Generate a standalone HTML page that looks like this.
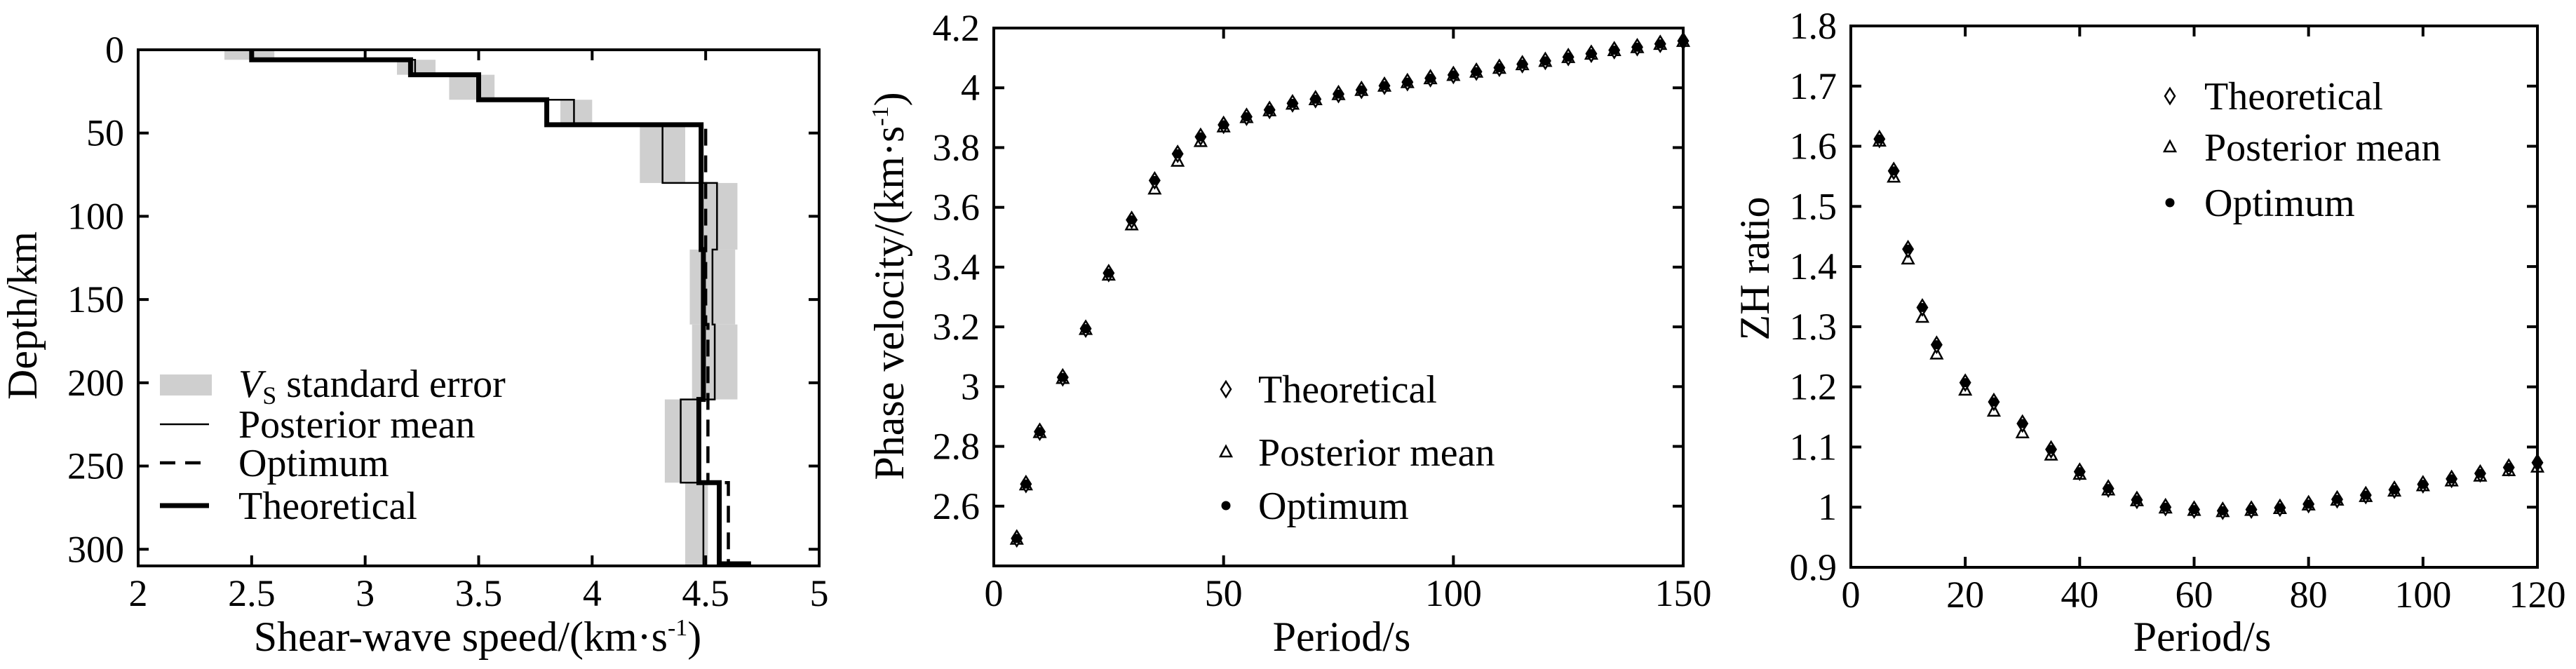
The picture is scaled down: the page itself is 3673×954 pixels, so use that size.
<!DOCTYPE html>
<html><head><meta charset="utf-8"><style>
html,body{margin:0;padding:0;background:#fff;}
svg{display:block;font-family:"Liberation Serif",serif;}
</style></head><body>
<svg id="fig" width="3673" height="954" viewBox="0 0 3673 954" xmlns="http://www.w3.org/2000/svg">
<g id="p1"></g>
<g id="p2"></g>
<g id="p3"></g>
</svg>
<script>
// ---- Panel 1 data: layers [top depth, bottom depth]
const layerTop = [0, 6, 15, 30, 45, 80, 120, 165, 210, 260];
const layerBot = [6, 15, 30, 45, 80, 120, 165, 210, 260, 310];
const theoVs = [2.5, 3.2, 3.5, 3.8, 4.48, 4.48, 4.49, 4.49, 4.47, 4.56];
const postVs = [2.5, 3.22, 3.5, 3.92, 4.31, 4.55, 4.53, 4.54, 4.39, 4.49];
const optVs = [2.5, 3.2, 3.5, 3.8, 4.5, 4.5, 4.5, 4.51, 4.51, 4.6];
const errLo = [2.38, 3.14, 3.37, 3.86, 4.21, 4.49, 4.43, 4.44, 4.32, 4.41];
const errHi = [2.6, 3.31, 3.57, 4.0, 4.41, 4.64, 4.63, 4.64, 4.46, 4.51];
const p1XTicks = [2, 2.5, 3, 3.5, 4, 4.5, 5];
const p1XLabels = ["2", "2.5", "3", "3.5", "4", "4.5", "5"];
const p1YTicks = [0, 50, 100, 150, 200, 250, 300];
const p1YLabels = ["0", "50", "100", "150", "200", "250", "300"];

// ---- Panel 2 data
const pvPeriods = [5,7,10,15,20,25,30,35,40,45,50,55,60,65,70,75,80,85,90,95,100,105,110,115,120,125,130,135,140,145,150];
const pvTheo = [2.492,2.674,2.849,3.031,3.194,3.38,3.558,3.69,3.779,3.836,3.876,3.903,3.926,3.948,3.962,3.979,3.993,4.007,4.019,4.032,4.043,4.054,4.067,4.079,4.09,4.103,4.114,4.126,4.136,4.147,4.157];
const pvPost = [2.488,2.67,2.845,3.026,3.19,3.372,3.54,3.66,3.753,3.819,3.868,3.899,3.922,3.944,3.959,3.976,3.99,4.004,4.016,4.029,4.04,4.051,4.064,4.076,4.087,4.1,4.111,4.123,4.133,4.144,4.154];
const pvOpt = [2.492,2.674,2.849,3.031,3.194,3.38,3.558,3.69,3.779,3.836,3.876,3.903,3.926,3.948,3.962,3.979,3.993,4.007,4.019,4.032,4.043,4.054,4.067,4.079,4.09,4.103,4.114,4.126,4.136,4.147,4.157];
const p2XTicks = [0, 50, 100, 150];
const p2YTicks = [2.6, 2.8, 3.0, 3.2, 3.4, 3.6, 3.8, 4.0, 4.2];
const p2YLabels = ["2.6","2.8","3","3.2","3.4","3.6","3.8","4","4.2"];

// ---- Panel 3 data
const zhPeriods = [5,7.5,10,12.5,15,20,25,30,35,40,45,50,55,60,65,70,75,80,85,90,95,100,105,110,115,120];
const zhTheo = [1.612,1.559,1.429,1.332,1.27,1.207,1.175,1.139,1.096,1.059,1.031,1.012,1.0,0.996,0.994,0.996,0.999,1.005,1.013,1.02,1.029,1.038,1.047,1.056,1.066,1.074];
const zhPost = [1.608,1.548,1.412,1.315,1.254,1.194,1.159,1.123,1.086,1.054,1.028,1.01,0.998,0.994,0.992,0.994,0.997,1.003,1.011,1.017,1.026,1.035,1.043,1.051,1.06,1.066];
const zhOpt = [1.612,1.559,1.429,1.332,1.27,1.207,1.175,1.139,1.096,1.059,1.031,1.012,1.0,0.996,0.994,0.996,0.999,1.005,1.013,1.02,1.029,1.038,1.047,1.056,1.066,1.074];
const p3XTicks = [0,20,40,60,80,100,120];
const p3YTicks = [0.9,1.0,1.1,1.2,1.3,1.4,1.5,1.6,1.7,1.8];
const p3YLabels = ["0.9","1","1.1","1.2","1.3","1.4","1.5","1.6","1.7","1.8"];

const NS = "http://www.w3.org/2000/svg";
function mk(parent, tag, attrs, text) {
  const e = document.createElementNS(NS, tag);
  for (const k in attrs) e.setAttribute(k, attrs[k]);
  if (text !== undefined) e.textContent = text;
  parent.appendChild(e);
  return e;
}
function lin(d0, d1, r0, r1) { return v => r0 + (v - d0) / (d1 - d0) * (r1 - r0); }

function frame(g, L, T, R, B, xs, xT, xL, ys, yT, yL, tickFs) {
  const axes = mk(g, "rect", {x:L, y:T, width:R-L, height:B-T, fill:"none", stroke:"#000", "stroke-width":4});
  
  
  xT.forEach((v, i) => {
    const x = xs(v);
    const t1 = mk(g, "line", {x1:x, x2:x, y1:B, y2:B-15, stroke:"#000", "stroke-width":4});
    
    
    const t2 = mk(g, "line", {x1:x, x2:x, y1:T, y2:T+15, stroke:"#000", "stroke-width":4});
    
    
    const lb = mk(g, "text", {x:x, y:B+57, "font-size":tickFs, "text-anchor":"middle"}, xL[i]);
    
    
  });
  yT.forEach((v, i) => {
    const y = ys(v);
    const t1 = mk(g, "line", {x1:L, x2:L+15, y1:y, y2:y, stroke:"#000", "stroke-width":4});
    
    
    const t2 = mk(g, "line", {x1:R, x2:R-15, y1:y, y2:y, stroke:"#000", "stroke-width":4});
    
    
    const lb = mk(g, "text", {x:L-20, y:y+18, "font-size":tickFs, "text-anchor":"end"}, yL[i]);
    
    
  });
}

// ===== Panel 1
(function(){
  const g = document.getElementById("p1");
  const L=197, R=1168, T=71, B=807;
  const xs = lin(2, 5, L, R), ys = lin(0, 310, T, B);
  layerTop.forEach((d, i) => {
    const r = mk(g, "rect", {x:xs(errLo[i]), y:ys(d), width:xs(errHi[i])-xs(errLo[i]), height:ys(layerBot[i])-ys(d), fill:"#cfcfcf"});
    
    
  });
  function stepPath(vals) {
    let p = "";
    layerTop.forEach((d, i) => {
      p += (i === 0 ? "M" : "L") + xs(vals[i]) + "," + ys(d) + " L" + xs(vals[i]) + "," + ys(layerBot[i]) + " ";
    });
    return p;
  }
  const post = mk(g, "path", {d:stepPath(postVs), fill:"none", stroke:"#000", "stroke-width":2.5});
  
  
  const opt = mk(g, "path", {d:stepPath(optVs), fill:"none", stroke:"#000", "stroke-width":4.5, "stroke-dasharray":"24,14"});
  
  
  const th = mk(g, "path", {d:stepPath(theoVs), fill:"none", stroke:"#000", "stroke-width":7});
  
  
  const thEnd = mk(g, "line", {x1:xs(theoVs[theoVs.length-1]), x2:xs(4.7), y1:ys(310)-3, y2:ys(310)-3, stroke:"#000", "stroke-width":7});
  
  
  frame(g, L, T, R, B, xs, p1XTicks, p1XLabels, ys, p1YTicks, p1YLabels, 54);
  const xt = mk(g, "text", {x:681, y:928, "font-size":60, "text-anchor":"middle"});
  
  
  xt.innerHTML = 'Shear-wave speed/(km·s<tspan dy="-22" font-size="34">-1</tspan><tspan dy="22">)</tspan>';
  const yt = mk(g, "text", {x:0, y:0, "font-size":60, "text-anchor":"middle", transform:"translate(52,450) rotate(-90)"}, "Depth/km");
  
  
  const lg = mk(g, "g", {});
  
  
  const e1 = mk(lg, "rect", {x:228, y:534, width:74, height:30, fill:"#cfcfcf"});
  
  
  const t1 = mk(lg, "text", {x:340, y:566, "font-size":56});
  
  
  t1.innerHTML = '<tspan font-style="italic">V</tspan><tspan font-size="36" dy="10">S</tspan><tspan dy="-10"> standard error</tspan>';
  const rows = [["Posterior mean",605,2.5,""],["Optimum",660,4.5,"22,14"],["Theoretical",721,7,""]];
  rows.forEach(r => {
    const ln = mk(lg, "line", {x1:228, x2:298, y1:r[1], y2:r[1], stroke:"#000", "stroke-width":r[2], "stroke-dasharray":r[3]});
    
    
    const tx = mk(lg, "text", {x:340, y:r[1]+19, "font-size":56}, r[0]);
    
    
  });
})();

function diamond(g, x, y) {
  const d = mk(g, "path", {d:`M${x},${y-11} L${x+7},${y} L${x},${y+11} L${x-7},${y} Z`, fill:"#fff", stroke:"#000", "stroke-width":2.5});
  
  
}
function tri(g, x, y) {
  const d = mk(g, "path", {d:`M${x},${y-9} L${x+8},${y+6} L${x-8},${y+6} Z`, fill:"#fff", stroke:"#000", "stroke-width":2.5});
  
  
}
function dot(g, x, y) {
  const d = mk(g, "circle", {cx:x, cy:y, r:6.5, fill:"#000"});
  
  
}
function scatterLegend(g, mx, tx, ys) {
  const lg = mk(g, "g", {});
  
  
  diamond(lg, mx, ys[0]); tri(lg, mx, ys[1]); dot(lg, mx, ys[2]);
  ["Theoretical","Posterior mean","Optimum"].forEach((s, i) => {
    const t = mk(lg, "text", {x:tx, y:ys[i]+19, "font-size":56}, s);
    
    
  });
}

// ===== Panel 2
(function(){
  const g = document.getElementById("p2");
  const L=1417, R=2400, T=40, B=807;
  const xs = lin(0, 150, L, R), ys = lin(2.4, 4.2, B, T);
  pvPeriods.forEach((p, i) => {
    tri(g, xs(p), ys(pvPost[i]));
    diamond(g, xs(p), ys(pvTheo[i]));
    dot(g, xs(p), ys(pvOpt[i]));
  });
  frame(g, L, T, R, B, xs, p2XTicks, p2XTicks.map(String), ys, p2YTicks, p2YLabels, 54);
  const xt = mk(g, "text", {x:1913, y:928, "font-size":60, "text-anchor":"middle"}, "Period/s");
  
  
  const yt = mk(g, "text", {x:0, y:0, "font-size":60, "text-anchor":"middle", transform:"translate(1288,408) rotate(-90)"});
  
  
  yt.innerHTML = 'Phase velocity/(km·s<tspan dy="-22" font-size="34">-1</tspan><tspan dy="22">)</tspan>';
  scatterLegend(g, 1748, 1794, [555, 645, 721]);
})();

// ===== Panel 3
(function(){
  const g = document.getElementById("p3");
  const L=2639, R=3618, T=37, B=809;
  const xs = lin(0, 120, L, R), ys = lin(0.9, 1.8, B, T);
  zhPeriods.forEach((p, i) => {
    tri(g, xs(p), ys(zhPost[i]));
    diamond(g, xs(p), ys(zhTheo[i]));
    dot(g, xs(p), ys(zhOpt[i]));
  });
  frame(g, L, T, R, B, xs, p3XTicks, p3XTicks.map(String), ys, p3YTicks, p3YLabels, 54);
  const xt = mk(g, "text", {x:3140, y:928, "font-size":60, "text-anchor":"middle"}, "Period/s");
  
  
  const yt = mk(g, "text", {x:0, y:0, "font-size":60, "text-anchor":"middle", transform:"translate(2522,383) rotate(-90)"}, "ZH ratio");
  
  
  scatterLegend(g, 3094, 3143, [137, 210, 289]);
})();
</script>
</body></html>
